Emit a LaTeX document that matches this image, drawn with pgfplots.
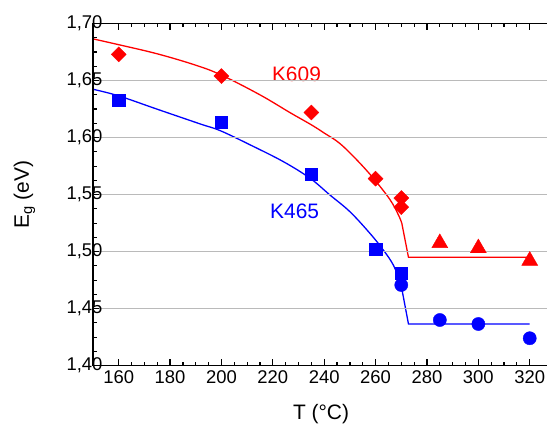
\documentclass[border=0pt]{standalone}
\usepackage{pgfplots}
\pgfplotsset{compat=1.18}
\usepackage{fontspec}
\setmainfont{Liberation Sans}
\begin{document}
\begin{tikzpicture}
\path[use as bounding box] (-93bp,-61.4bp) rectangle (454bp,365.6bp);
\begin{axis}[
  at={(0,0)}, anchor=origin,
  scale only axis, width=456bp, height=342bp,
  xmin=150, xmax=327.5, ymin=1.40, ymax=1.70,
  xtick={160,180,200,220,240,260,280,300,320},
  ytick={1.40,1.45,1.50,1.55,1.60,1.65,1.70},
  minor x tick num=3, minor y tick num=3,
  xtick pos=both, ytick pos=left,
  tick align=inside,
  major tick length=6.5pt, minor tick length=3.8pt,
  major tick style={line width=1.2pt, black},
  minor tick style={line width=1.2pt, black},
  axis on top,
  axis line style={line width=1.6pt, black},
  ymajorgrids, grid style={black!27, line width=0.9pt},
  yticklabel style={xshift=13bp, /pgf/number format/use comma, /pgf/number format/fixed, /pgf/number format/fixed zerofill, /pgf/number format/precision=2},
  /pgf/number format/assume math mode=true,
  tick label style={font=\fontsize{18.5}{18.5}\selectfont},
  xticklabel style={yshift=-2bp},
  label style={font=\fontsize{21}{21}\selectfont},
  xlabel={T (°C)}, ylabel={E\textsubscript{g} (eV)},
  xlabel style={at={(axis description cs:0.5,0)}, anchor=north, yshift=-39bp, inner sep=0pt},
  ylabel style={at={(axis description cs:-0.1404,0.5)}, anchor=base, inner sep=0pt},
  clip=false,
]
% fitted curves
\addplot[red, line width=1.3bp, smooth, tension=0.6] coordinates {
(150,1.6866)(160,1.6815)(175,1.6735)(190,1.6635)(200,1.6548)(215,1.6375)(227,1.6215)(235,1.6112)(240,1.6040)(246,1.5950)(252.7,1.5804)(259.1,1.5644)(265.6,1.5456)(268.9,1.5321)(270.2,1.5249)};
\addplot[red, line width=1.3bp] coordinates {(270.2,1.5249)(272.8,1.495)(320,1.495)};
\addplot[blue, line width=1.3bp, smooth, tension=0.6] coordinates {
(150,1.6424)(160,1.6366)(175,1.6249)(191.7,1.612)(199.5,1.6061)(211.2,1.5936)(224.1,1.5789)(234.5,1.5643)(242.2,1.5497)(250,1.535)(257.8,1.516)(263,1.5014)(266.9,1.4882)(269.8,1.4722)};
\addplot[blue, line width=1.3bp] coordinates {(269.8,1.4722)(272.8,1.4365)(320,1.4365)};
% data
\addplot[only marks, mark=square*, mark size=5.3bp, mark options={rotate=45, fill=red, draw=red}] coordinates {
(160,1.673)(200,1.654)(235,1.622)(260,1.564)(270,1.547)(270,1.539)};
\addplot[only marks, mark=triangle*, mark size=9.2bp, mark options={fill=red, draw=red}] coordinates {
(285,1.5075)(300,1.503)(320,1.492)};
\addplot[only marks, mark=square*, mark size=6.2bp, mark options={fill=blue, draw=blue}] coordinates {
(160,1.633)(200,1.6135)(235,1.568)(260,1.502)(270,1.481)};
\addplot[only marks, mark=*, mark size=6.6bp, mark options={fill=blue, draw=blue}] coordinates {
(270,1.4707)(285,1.44)(300,1.4365)(320,1.424)};
\node[red, font=\fontsize{21}{21}\selectfont] at (axis cs:229.2,1.6559) {K609};
\node[blue, font=\fontsize{21}{21}\selectfont] at (axis cs:228.5,1.5357) {K465};
\end{axis}
\end{tikzpicture}
\end{document}
